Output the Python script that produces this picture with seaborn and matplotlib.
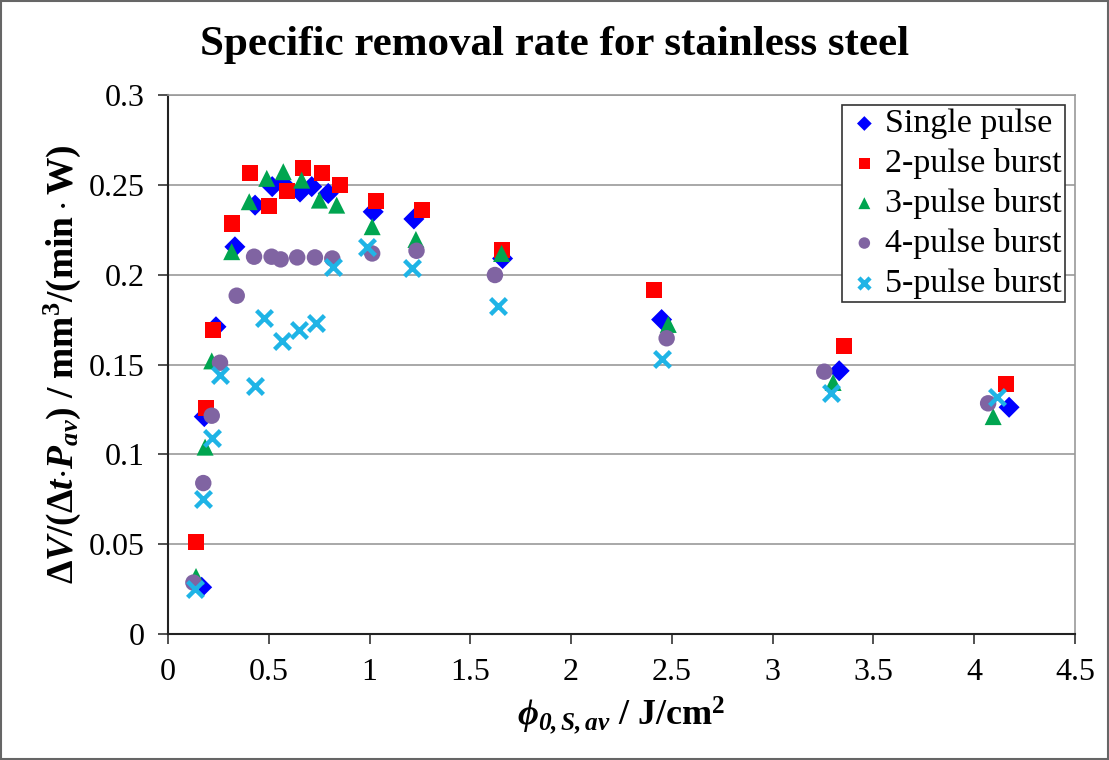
import matplotlib
matplotlib.use("Agg")
import matplotlib.pyplot as plt
import seaborn as sns
import pandas as pd
from matplotlib.ticker import FuncFormatter
from matplotlib.patches import Rectangle

# ---- data ----
single_x = [0.167, 0.180, 0.238, 0.332, 0.432, 0.517, 0.569, 0.655, 0.713, 0.795, 1.018, 1.220, 1.660, 2.449, 3.330, 4.173]
single_y = [0.026, 0.121, 0.171, 0.2155, 0.2387, 0.249, 0.2508, 0.246, 0.249, 0.2452, 0.235, 0.231, 0.209, 0.175, 0.1465, 0.1262]

two_x = [0.137, 0.187, 0.225, 0.319, 0.407, 0.503, 0.592, 0.668, 0.766, 0.853, 1.032, 1.261, 1.655, 2.412, 3.355, 4.157]
two_y = [0.051, 0.126, 0.169, 0.2285, 0.2567, 0.2384, 0.2467, 0.2592, 0.2567, 0.2499, 0.241, 0.236, 0.2137, 0.1914, 0.1603, 0.139]

three_x = [0.139, 0.184, 0.217, 0.316, 0.403, 0.490, 0.572, 0.663, 0.751, 0.837, 1.013, 1.230, 1.655, 2.482, 3.300, 4.094]
three_y = [0.032, 0.104, 0.152, 0.2128, 0.2406, 0.2536, 0.2573, 0.2526, 0.2415, 0.2387, 0.2267, 0.2196, 0.2118, 0.1723, 0.140, 0.121]

four_x = [0.126, 0.175, 0.217, 0.258, 0.341, 0.427, 0.514, 0.559, 0.641, 0.729, 0.815, 1.013, 1.233, 1.622, 2.474, 3.256, 4.069]
four_y = [0.0286, 0.084, 0.1215, 0.151, 0.1883, 0.210, 0.210, 0.2085, 0.2096, 0.2096, 0.209, 0.2118, 0.2133, 0.1998, 0.1646, 0.146, 0.1284]

five_x = [0.134, 0.175, 0.220, 0.258, 0.432, 0.476, 0.564, 0.651, 0.734, 0.820, 0.989, 1.209, 1.638, 2.449, 3.287, 4.114]
five_y = [0.025, 0.075, 0.109, 0.144, 0.138, 0.1757, 0.1632, 0.169, 0.1732, 0.204, 0.2152, 0.2035, 0.1825, 0.153, 0.134, 0.132]

series_names = ["Single pulse", "2-pulse burst", "3-pulse burst", "4-pulse burst", "5-pulse burst"]
x_ticks = [0, 0.5, 1, 1.5, 2, 2.5, 3, 3.5, 4, 4.5]
y_ticks = [0, 0.05, 0.1, 0.15, 0.2, 0.25, 0.3]

# ---- style ----
sns.set_theme(style="white")
plt.rcParams["font.family"] = ["Liberation Serif", "DejaVu Serif"]
plt.rcParams["text.color"] = "black"
plt.rcParams["axes.labelcolor"] = "black"
plt.rcParams["xtick.color"] = "black"
plt.rcParams["ytick.color"] = "black"
plt.rcParams["mathtext.fontset"] = "custom"
plt.rcParams["mathtext.rm"] = "Liberation Serif"
plt.rcParams["mathtext.it"] = "Liberation Serif:italic"
plt.rcParams["mathtext.bf"] = "Liberation Serif:bold"
plt.rcParams["mathtext.bfit"] = "Liberation Serif:italic:bold"

colors = ["#0000FF", "#FF0000", "#00A550", "#8064A2", "#1FB4E6"]
markers = ["D", "s", "^", "o", "x"]
sizes = [115, 135, 150, 140, 130]

fig = plt.figure(figsize=(11.09, 7.60), dpi=100)
ax = fig.add_axes([168 / 1109, 1 - 634 / 760, (1075 - 168) / 1109, (634 - 95) / 760])

xs = [single_x, two_x, three_x, four_x, five_x]
ys = [single_y, two_y, three_y, four_y, five_y]
for i, name in enumerate(series_names):
    df = pd.DataFrame({"x": xs[i], "y": ys[i]})
    kw = dict(data=df, x="x", y="y", ax=ax, color=colors[i], marker=markers[i],
              s=sizes[i], label=name, zorder=3 + i)
    if markers[i] == "x":
        kw.update(linewidth=3.2)
    else:
        kw.update(edgecolor="none")
    sns.scatterplot(**kw)

ax.set_xlim(0, 4.5)
ax.set_ylim(0, 0.3)
ax.set_xticks(x_ticks)
ax.set_yticks(y_ticks)
fmt = FuncFormatter(lambda v, p: f"{v:g}")
ax.xaxis.set_major_formatter(fmt)
ax.yaxis.set_major_formatter(fmt)
ax.tick_params(axis="both", which="major", direction="out", length=7, width=1.2,
               color="#333333", labelcolor="black", labelsize=23, pad=10, bottom=True, left=True)
ax.yaxis.grid(True, color="#999999", linewidth=1.2)
ax.xaxis.grid(False)
ax.set_axisbelow(True)
for side in ["left", "bottom"]:
    ax.spines[side].set_color("#222222")
    ax.spines[side].set_linewidth(1.5)
for side in ["top", "right"]:
    ax.spines[side].set_color("#999999")
    ax.spines[side].set_linewidth(1.2)

ax.set_xlabel(r"$\mathbfit{\phi_{0,S,av}}$" + r"$\mathbf{\ /\ J/cm^2}$", fontsize=26, labelpad=6)
ax.set_ylabel(r"$\mathbf{\Delta}\mathbfit{V}\mathbf{/(\Delta}\mathbfit{t}\mathbf{\cdot}\mathbfit{P}_{\mathbfit{av}}\mathbf{)\ /\ mm^3/(min\cdot W)}$",
              fontsize=27, labelpad=4)

fig.text(0.5, 1 - 45 / 760, "Specific removal rate for stainless steel", ha="center", va="center",
         fontsize=31, fontweight="bold")

leg = ax.legend(loc="upper right", fontsize=24.5, frameon=True, fancybox=False,
                borderpad=0.1, handletextpad=0.05, labelspacing=0.26,
                borderaxespad=0.3, handlelength=1.1, markerscale=0.7)
leg.get_frame().set_edgecolor("#333333")
leg.get_frame().set_linewidth(1.2)
leg.get_frame().set_alpha(1)

fig.patches.append(Rectangle((0.001, 0.001), 0.998, 0.998, transform=fig.transFigure,
                             fill=False, edgecolor="#666666", linewidth=1.5))

fig.savefig("out.png", dpi=100)
